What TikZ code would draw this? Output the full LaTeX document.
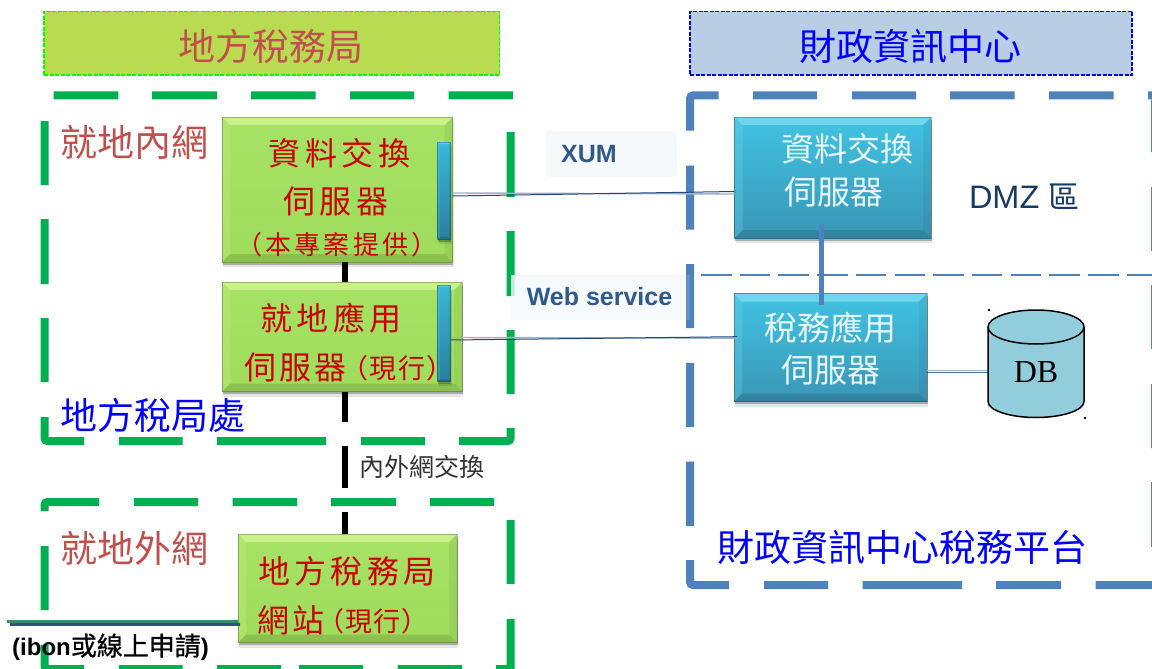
\documentclass[tikz,border=0pt]{standalone}
\usepackage{fontspec}
\setmainfont{Liberation Sans}
\newfontfamily\cjk{Noto Sans CJK TC}
\newfontfamily\cjkfb[FakeBold=0.6]{Noto Sans CJK TC}
\newfontfamily\timesf{Liberation Serif}
\usetikzlibrary{fit,calc,shadows}
\definecolor{grn}{HTML}{00B050}
\definecolor{blu}{HTML}{4F81BD}
\definecolor{rust}{HTML}{C0504D}
\definecolor{hdrG}{HTML}{B9DB52}
\definecolor{hdrB}{HTML}{B9CDE5}
\definecolor{redt}{HTML}{CC0000}
\definecolor{navy}{HTML}{1F497D}
\definecolor{pale}{HTML}{9DB2CB}
\definecolor{lab}{HTML}{2F5A8A}
\definecolor{gT}{HTML}{A6E263}
\definecolor{gB}{HTML}{A0DC5C}
\definecolor{gL}{HTML}{CBF18A}
\definecolor{cT}{HTML}{41C3E3}
\definecolor{cB}{HTML}{3A96B6}
\definecolor{cL}{HTML}{6FD6EE}
\definecolor{tT}{HTML}{3AB8DA}
\definecolor{tB}{HTML}{2B7F9F}
\definecolor{tL}{HTML}{55CFEA}
\definecolor{dbf}{HTML}{92CDDC}
\definecolor{lblbg}{HTML}{F5F9FC}
\definecolor{accG}{HTML}{3A8F6B}
\definecolor{accN}{HTML}{2F5282}
\newcommand\fs[1]{\fontsize{#1}{#1}\selectfont}
% name, x0,y0,x1,y1, top, bottom, light, bevel size
\newcommand\bevelbox[9]{%
  \node[name=#1, fit={(#2,#3)(#4,#5)}, inner sep=0pt, outer sep=0pt, top color=#6, bottom color=#7,
        drop shadow={shadow xshift=1pt, shadow yshift=-5pt, opacity=.10, fill=black},
        drop shadow={shadow xshift=.5pt, shadow yshift=-2.5pt, opacity=.25, fill=black}] {};
  \fill[#8] (#1.north west) -- (#1.north east) -- ($(#1.north east)+(-#9,#9)$) -- ($(#1.north west)+(#9,#9)$) -- cycle;
  \fill[#8, opacity=.3] (#1.north west) -- (#1.south west) -- ($(#1.south west)+(#9,-#9)$) -- ($(#1.north west)+(#9,#9)$) -- cycle;
  \fill[black, opacity=.05] (#1.north east) -- (#1.south east) -- ($(#1.south east)+(-#9,-#9)$) -- ($(#1.north east)+(-#9,#9)$) -- cycle;
  \fill[black, opacity=.12] (#1.south west) -- (#1.south east) -- ($(#1.south east)+(-#9,-#9)$) -- ($(#1.south west)+(#9,-#9)$) -- cycle;
  \draw[black, opacity=.25, line width=.8pt] (#1.north west) rectangle (#1.south east);
}
\tikzset{
  grnline/.style={draw=grn, line width=8pt, rounded corners=3pt},
  bluline/.style={draw=blu, line width=8pt, rounded corners=3pt},
  txt/.style={inner sep=0pt, outer sep=0pt, font=\cjk},
  hdrbox/.style={inner sep=0pt, outer sep=0pt, line width=1.5pt, dash pattern=on 4pt off 1.5pt},
  navyline/.style={draw=navy, line width=1pt},
  paleline/.style={draw=pale, line width=1.4pt},
}
\begin{document}
\begin{tikzpicture}[x=1pt,y=-1pt]
\useasboundingbox (0,0) rectangle (1152,669);
\fill[white] (0,0) rectangle (1152,669);
% headers
\node[hdrbox, name=hg, fit={(44,11.5)(499.5,75)}, fill=hdrG, draw=green] {};
\node[hdrbox, name=hb, fit={(690,11.5)(1132,75)}, fill=hdrB, draw=blue] {};
\node[txt, text=rust] (hgt) at (271,46) {\fs{37}地方稅務局};
\node[txt, text=blue] (hbt) at (910,46) {\fs{37}財政資訊中心};
% green dashed frames
\path[grnline] (53.6,95.5)--(118.3,95.5) (152,95.5)--(217,95.5) (251,95.5)--(315.6,95.5) (350,95.5)--(414,95.5) (448.6,95.5)--(513,95.5)
  (510.6,132)--(510.6,197) (510.6,231)--(510.6,296) (510.6,330)--(510.6,394)
  (510.6,428)--(510.6,441)--(459,441) (425,441)--(361,441) (326,441)--(217,441) (182.6,441)--(119,441)
  (84,441)--(44.5,441)--(44.5,417) (44.5,382)--(44.5,318) (44.5,284)--(44.5,219) (44.5,185)--(44.5,121);
\path[grnline] (44.5,511)--(44.5,502)--(99,502) (134,502)--(198,502) (232.5,502)--(297,502) (331,502)--(396,502) (430,502)--(494,502)
  (510.6,520)--(510.6,584) (510.6,619)--(510.6,672)
  (44.5,546)--(44.5,610) (44.5,645)--(44.5,669)--(84,669) (119,669)--(182.6,669) (217,669)--(281,669) (299,669)--(363,669) (397.5,669)--(462,669) (496,669)--(510.6,669);
% label backgrounds
\node[name=xumbg, fit={(546,131)(677,177)}, inner sep=0pt, fill=lblbg] {};
\node[name=webbg, fit={(510.6,275)(690,320)}, inner sep=0pt, fill=lblbg, fill opacity=.8] {};
% blue dashed frame
\path[bluline] (690,130.7)--(690,95.5)--(718.5,95.5) (753,95.5)--(817,95.5) (852,95.5)--(916,95.5) (950,95.5)--(1014.6,95.5) (1049,95.5)--(1113.5,95.5) (1148,95.5)--(1155,95.5)
  (690,165.7)--(690,229.7) (690,264)--(690,328) (690,363)--(690,427) (690,461.7)--(690,526)
  (690,560)--(690,585)--(729,585) (764,585)--(828,585) (862.5,585)--(962,585) (996,585)--(1061,585) (1095.5,585)--(1155,585)
  (1155,100)--(1155,152) (1155,187)--(1155,251) (1155,285)--(1155,349) (1155,384)--(1155,448) (1155,482)--(1155,547);
\fill[lblbg, opacity=.12] (686,275) rectangle (690,320);
\coordinate (dl) at (701,275); \coordinate (dr) at (1152,275);
\draw[blu, line width=1.6pt, dash pattern=on 30.5pt off 8.2pt] (dl) -- (dr);
% region labels
\node[txt, text=rust, anchor=west] (l1) at (60,142) {\fs{37}就地內網};
\node[txt, text=blue, anchor=west] (l2) at (60,415) {\fs{37}地方稅局處};
\node[txt, text=rust, anchor=west] (l3) at (60,548) {\fs{37}就地外網};
\node[txt, text=blue, anchor=west] (l4) at (717,547) {\fs{37}財政資訊中心稅務平台};
% servers
\bevelbox{b1}{222}{117}{452.5}{262}{gT}{gB}{gL}{8}
\bevelbox{b2}{222}{282}{462}{391.7}{gT}{gB}{gL}{8}
\bevelbox{b3}{238}{534}{457}{642.7}{gT}{gB}{gL}{8}
\bevelbox{ba}{734.7}{117}{931}{238}{cT}{cB}{cL}{8}
\bevelbox{bb}{734}{293.7}{927}{401.7}{cT}{cB}{cL}{8}
\bevelbox{t1}{437.5}{142}{450.8}{239}{tT}{tB}{tL}{2}
\bevelbox{t2}{437.5}{285}{450.8}{381}{tT}{tB}{tL}{2}
% black exchange line
\draw[black, line width=5.5pt] ($(b1.south)+(7.75,0)$) -- ($(b2.north)+(3,0)$);
\draw[black, line width=5.5pt, dash pattern=on 30.3pt off 23.7pt on 42.3pt off 23.7pt on 23pt] ($(b2.south)+(3,0)$) -- ($(b3.north)+(-2.5,0)$);
% connectors
\draw[paleline] ($(b1.east)+(0,3.5)$) -- ($(ba.west)+(0,16.5)$);
\draw[navyline] ($(b1.east)+(0,6.5)$) -- ($(ba.west)+(0,14)$);
\draw[paleline] ($(t2.east)+(0,4.5)$) -- ($(bb.west)+(3,-9.5)$);
\draw[navyline] ($(t2.east)+(0,7)$) -- ($(bb.west)+(3,-11)$);
% DB cylinder
\node[name=db, fit={(988,310)(1084,418)}, inner sep=0pt, outer sep=0pt] {};
\draw[paleline] ($(bb.east)+(0,23)$) -- ($(db.west)+(0,6.7)$);
\draw[navyline, opacity=.8] ($(bb.east)+(0,25)$) -- ($(db.west)+(0,8.7)$);
\draw[black, line width=1.5pt, fill=dbf] (988,327) -- (988,401.5) .. controls (988,410.3) and (1009.5,417.5) .. (1036,417.5) .. controls (1062.5,417.5) and (1084,410.3) .. (1084,401.5) -- (1084,327) .. controls (1084,317.6) and (1062.5,310) .. (1036,310) .. controls (1009.5,310) and (988,317.6) .. (988,327) -- cycle;
\draw[black, line width=1.5pt] (988,327) .. controls (988,336.4) and (1009.5,344) .. (1036,344) .. controls (1062.5,344) and (1084,336.4) .. (1084,327);
\draw[blu, line width=5pt] ($(ba.south)+(-11.45,-14)$) -- ($(bb.north)+(-9.1,11)$);
% left access line
\coordinate (acc) at (7,621.7);
\draw[draw=accG, line width=3pt] (acc) -- ($(b3.west)+(0,33.3)$);
\draw[draw=accN, line width=3pt] ($(acc)+(3,2.6)$) -- ($(b3.west)+(2,35.9)$);
% server texts
\node[txt, text=redt] (s1a) at (339.5,153) {\fs{32}\addfontfeature{LetterSpace=14}資料交換};
\node[txt, text=redt] (s1b) at (336,201) {\fs{32}\addfontfeature{LetterSpace=13}伺服器};
\node[txt, text=redt] (s1c) at (337,245) {\fs{26}\addfontfeature{LetterSpace=12}（本專案提供）};
\node[txt, text=redt] (s2a) at (331,318) {\fs{32}\addfontfeature{LetterSpace=14}就地應用};
\node[txt, text=redt, anchor=west] (s2b) at (244,367) {\fs{32}\addfontfeature{LetterSpace=10}伺服器};
\node[txt, text=redt] (s2c) at (397.5,368) {\fs{27}\addfontfeature{LetterSpace=4}（現行）};
\node[txt, text=redt] (s3a) at (347,571) {\fs{32}\addfontfeature{LetterSpace=14}地方稅務局};
\node[txt, text=redt, anchor=west] (s3b) at (257,620) {\fs{32}\addfontfeature{LetterSpace=10}網站};
\node[txt, text=redt] (s3c) at (373,621) {\fs{27}\addfontfeature{LetterSpace=4}（現行）};
\node[txt, text=white!90!cyan] (sa1) at (847,149) {\fs{33}資料交換};
\node[txt, text=white!90!cyan] (sa2) at (834,192) {\fs{33}伺服器};
\node[txt, text=white!90!cyan] (sb1) at (830,328) {\fs{33}稅務應用};
\node[txt, text=white!90!cyan] (sb2) at (831,370) {\fs{33}伺服器};
\node[inner sep=0pt, font=\timesf, text=black] (dbt) at (1036,372.5) {\fs{32}DB};
\fill[black] (988,309) rectangle (990,311);
\fill[black] (1083.5,416.7) rectangle (1085.5,418.7);
% other labels
\node[txt, anchor=west, text=navy!80!black] (dmz) at (969,197) {{\rmfamily\fs{32.5}DMZ}\hspace{9pt}\fs{31}區};
\node[inner sep=0pt, font=\bfseries, text=lab] (xum) at (589,154) {\fs{25}XUM};
\node[inner sep=0pt, font=\bfseries, text=lab] (web) at (599.5,297) {\fs{25}Web service};
\node[txt, text=black!80] (ex) at (422,467) {\fs{25}內外網交換};
\node[inner sep=0pt, anchor=west, text=black] (ib) at (12,647) {\fs{24}\textbf{(ibon}{\cjkfb\fs{26}或線上申請}\textbf{)}};
\end{tikzpicture}
\end{document}
